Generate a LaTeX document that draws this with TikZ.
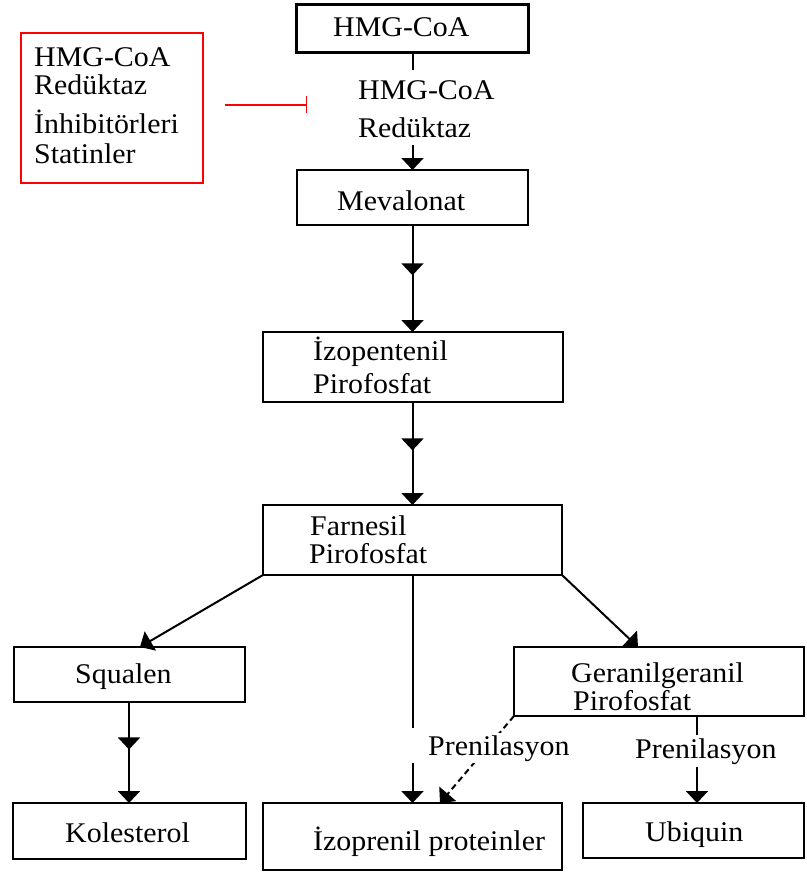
\documentclass[tikz,border=0pt]{standalone}
\usepackage{fontspec}
\setmainfont{Liberation Serif}[FakeStretch=1.05]
\usetikzlibrary{arrows.meta,decorations.markings,calc}
\begin{document}
\begin{tikzpicture}[x=1pt,y=-1pt,
  box/.style={draw,line width=2pt,inner sep=0pt,outer sep=0pt},
  lbl/.style={inner sep=0pt,anchor=base west,font=\fontsize{28.5}{30}\selectfont},
  ln/.style={line width=2pt},
  arrowend/.style={-{Triangle[width=22pt,length=12pt]}},
  midarrow/.style={postaction={decorate},decoration={markings,mark=at position #1 with {\arrow{Triangle[width=22pt,length=12pt]}}}}
]
\fill[white] (0,0) rectangle (806,872);
\useasboundingbox (0,0) rectangle (806,872);

% boxes
\node[box,line width=3pt,minimum width=232pt,minimum height=48pt] (hmg) at (412.5,29) {};
\node[box,minimum width=231pt,minimum height=55pt] (mev) at (412.5,197.5) {};
\node[box,minimum width=300pt,minimum height=70pt] (izo) at (412.5,367) {};
\node[box,minimum width=299pt,minimum height=70pt] (far) at (412.5,540) {};
\node[box,minimum width=231pt,minimum height=55pt] (squ) at (129,674.5) {};
\node[box,minimum width=290pt,minimum height=69pt] (ger) at (659,681.5) {};
\node[box,minimum width=233pt,minimum height=56pt] (kol) at (129,831) {};
\node[box,minimum width=299pt,minimum height=67pt] (izp) at (412.5,836.5) {};
\node[box,minimum width=221pt,minimum height=55pt] (ubi) at (693,830.5) {};
\node[box,draw=red,line width=1.6pt,minimum width=182pt,minimum height=150pt] (inh) at (112,108) {};

% texts
\node[lbl] (thmg) at (333,37) {HMG-CoA};
\node[lbl] (tenz1) at (358,100) {HMG-CoA};
\node[lbl] (tenz2) at (358,138) {Redüktaz};
\node[lbl] (tmev) at (337,210) {Mevalonat};
\node[lbl] (tizo1) at (313,360) {İzopentenil};
\node[lbl] (tizo2) at (313,393) {Pirofosfat};
\node[lbl] (tfar1) at (310,535) {Farnesil};
\node[lbl] (tfar2) at (309,563) {Pirofosfat};
\node[lbl] (tsqu) at (75,683) {Squalen};
\node[lbl] (tger1) at (571,682) {Geranilgeranil};
\node[lbl] (tger2) at (573,710) {Pirofosfat};
\node[lbl] (tkol) at (65,842) {Kolesterol};
\node[lbl] (tizp) at (313,850) {İzoprenil proteinler};
\node[lbl] (tubi) at (645,841) {Ubiquin};
\node[lbl] (tinh1) at (34,67) {HMG-CoA};
\node[lbl] (tinh2) at (34,95) {Redüktaz};
\node[lbl] (tinh3) at (34,133) {İnhibitörleri};
\node[lbl] (tinh4) at (34,163) {Statinler};

% inhibition
\coordinate (r1) at (225,105);
\coordinate (r2) at (307,105);
\draw[red,line width=1.4pt,-{Bar[width=17pt]}] (r1) -- (r2);

% main chain
\coordinate (c1) at (412.5,70);
\coordinate (c2) at (412.5,145);
\draw[ln] (hmg.south) -- (c1);
\draw[ln,arrowend] (c2) -- (mev.north);
\draw[ln,arrowend,midarrow=0.47] (mev.south) -- (izo.north);
\draw[ln,arrowend,midarrow=0.47] (izo.south) -- (far.north);

% branches
\draw[ln,arrowend] (far.south west) -- ($(squ.north)+(11,0)$);
\draw[ln,arrowend] (far.south east) -- ($(ger.north)+(-21,0)$);
\coordinate (g1) at (412.5,728);
\coordinate (g2) at (412.5,763);
\draw[ln] (far.south) -- (g1);
\draw[ln,arrowend] (g2) -- (izp.north);
\draw[ln,arrowend,midarrow=0.47] (squ.south) -- (kol.north);

% prenylation
\draw[ln,dashed,dash pattern=on 6pt off 4pt,arrowend] (ger.south west) -- ($(izp.north)+(27.5,0)$);
\node[lbl,fill=white,inner xsep=0pt,inner ysep=2pt] (pre1) at (428,755) {Prenilasyon};
\draw[ln,arrowend] ($(ger.south)+(38,0)$) -- ($(ubi.north)+(4,0)$);
\node[lbl,fill=white,inner xsep=0pt,inner ysep=3pt] (pre2) at (635,758) {Prenilasyon};
\end{tikzpicture}
\end{document}
